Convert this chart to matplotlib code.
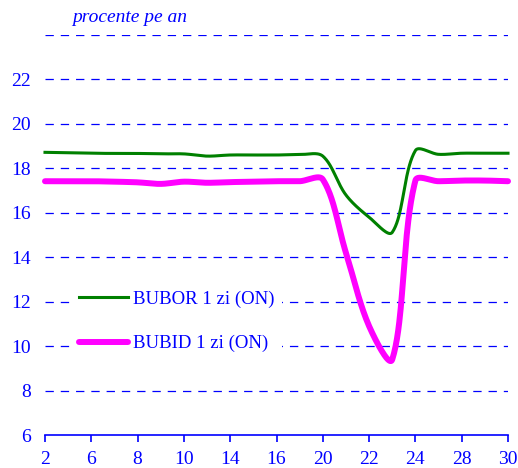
import numpy as np
import matplotlib
matplotlib.use("Agg")
import matplotlib.pyplot as plt

days = ["2", "3", "6", "7", "8", "9", "10", "13", "14", "15", "16", "17",
        "20", "21", "22", "23", "24", "27", "28", "29", "30"]
bubor = [18.72, 18.70, 18.68, 18.67, 18.67, 18.65, 18.65, 18.55, 18.60, 18.60, 18.60, 18.62,
         18.55, 16.80, 15.80, 15.12, 18.80, 18.63, 18.68, 18.68, 18.68]
bubid = [17.42, 17.42, 17.42, 17.40, 17.37, 17.30, 17.40, 17.35, 17.38, 17.40, 17.42, 17.42,
         17.50, 14.20, 10.90, 9.40, 17.45, 17.42, 17.45, 17.45, 17.42]
yticks = [6, 8, 10, 12, 14, 16, 18, 20, 22]
gridvals = [8, 10, 12, 14, 16, 18, 20, 22, 24]
labels = ["BUBOR 1 zi (ON)", "BUBID 1 zi (ON)"]

PX_X = 23.15   # pixels per category step
PX_Y = 22.2    # pixels per y unit


def smooth(y, n=40):
    """Excel-like smoothed line: Bezier with chord-length scaled control arms (in pixel space)."""
    P = np.column_stack([np.arange(len(y)) * PX_X, np.asarray(y, float) * PX_Y])
    N = len(P)
    d = np.linalg.norm(np.diff(P, axis=0), axis=1)
    out = []
    for i in range(N - 1):
        p0, p1 = P[i], P[i + 1]
        if i > 0:
            T = P[i + 1] - P[i - 1]
            c1 = p0 + T * d[i] / (d[i - 1] + d[i]) / 3.0
        else:
            c1 = p0 + (p1 - p0) / 3.0
        if i + 1 < N - 1:
            T = P[i + 2] - P[i]
            c2 = p1 - T * d[i] / (d[i] + d[i + 1]) / 3.0
        else:
            c2 = p1 - (p1 - p0) / 3.0
        t = np.linspace(0, 1, n, endpoint=False)[:, None]
        B = ((1 - t) ** 3) * p0 + 3 * ((1 - t) ** 2) * t * c1 + 3 * (1 - t) * t ** 2 * c2 + t ** 3 * p1
        out.append(B)
    out.append(P[-1:])
    B = np.vstack(out)
    return B[:, 0] / PX_X, B[:, 1] / PX_Y


plt.rcParams["font.family"] = ["Liberation Serif", "DejaVu Serif"]
plt.rcParams["lines.scale_dashes"] = False
blue = "#0000ff"
FS = 14

fig = plt.figure(figsize=(5.18, 4.68), dpi=100)
ax = fig.add_axes([45 / 518, 33 / 468, 463 / 518, 400 / 468])

for g in gridvals:
    ax.axhline(g, color=blue, lw=0.9, dashes=(6.0, 5.0), zorder=1)

xg, yg = smooth(bubor)
xm, ym = smooth(bubid)
ax.plot(xg, yg, color="#008000", lw=2.2, label=labels[0], zorder=3, clip_on=False)
ax.plot(xm, ym, color="#ff00ff", lw=4.3, label=labels[1], zorder=3, clip_on=False,
        solid_capstyle="round")

ax.set_xlim(0, len(days) - 1)
ax.set_ylim(6, 24)
tick_idx = list(range(0, len(days), 2))
ax.set_xticks(tick_idx)
ax.set_xticklabels([days[i] for i in tick_idx])
ax.set_yticks(yticks)
ax.set_yticklabels([str(v) for v in yticks])

for s in ["top", "right", "left"]:
    ax.spines[s].set_visible(False)
ax.spines["bottom"].set_color(blue)
ax.spines["bottom"].set_linewidth(1.2)
ax.tick_params(axis="x", colors=blue, direction="out", length=5, width=1.2,
               labelsize=FS, pad=6.5)
ax.tick_params(axis="y", colors=blue, length=0, labelsize=FS, pad=10)

leg = ax.legend(loc="upper left", bbox_to_anchor=(0.058, 0.38), frameon=True,
                facecolor="white", edgecolor="none", framealpha=1,
                fontsize=13.5, handlelength=2.6, handletextpad=0.25,
                labelspacing=1.45, borderpad=0.4, borderaxespad=0)
for t in leg.get_texts():
    t.set_color(blue)
leg.set_zorder(2)

fig.text(72 / 518, 1 - 18 / 468, "procente pe an", color=blue, style="italic",
         fontsize=FS, va="center", ha="left")

fig.savefig("out.png", dpi=100, facecolor="white")
